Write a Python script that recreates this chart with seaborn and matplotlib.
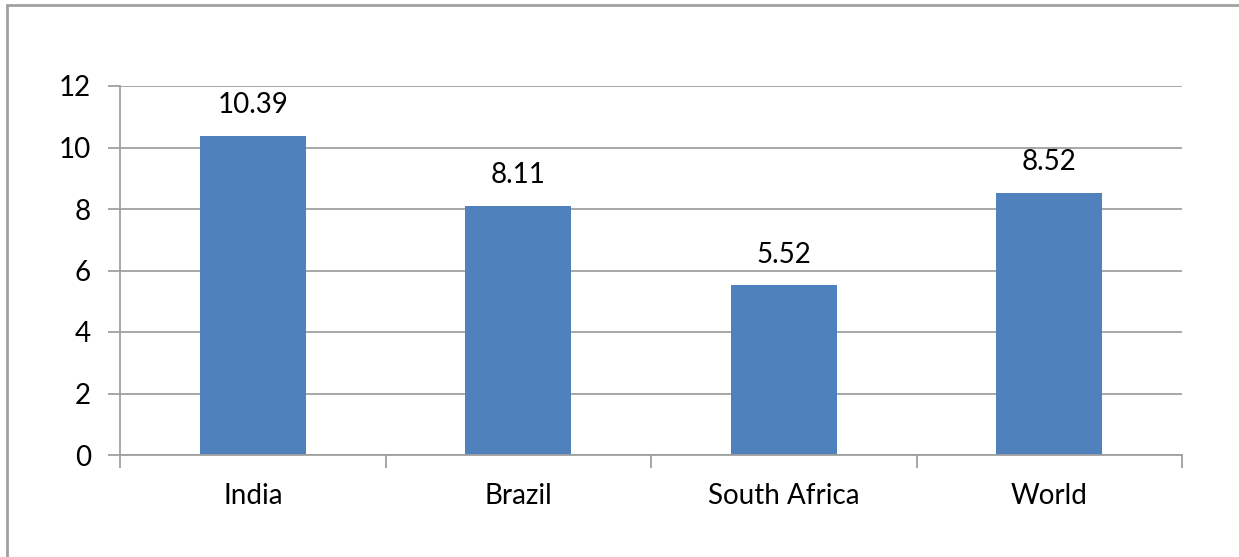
import matplotlib
matplotlib.use("Agg")
import matplotlib.pyplot as plt
import seaborn as sns
import pandas as pd
from matplotlib.lines import Line2D

categories = ["India", "Brazil", "South Africa", "World"]
values = [10.39, 8.11, 5.52, 8.52]
yticks = [0, 2, 4, 6, 8, 10, 12]

sns.set_theme(style="white")
plt.rcParams['font.family'] = ['Lato', 'DejaVu Sans']

fig = plt.figure(figsize=(12.39, 5.57), dpi=100)
ax = fig.add_axes([120/1239, 1-455/557, (1182-120)/1239, (455-86)/557])

df = pd.DataFrame({"cat": categories, "val": values})
sns.barplot(data=df, x="cat", y="val", ax=ax, color="#4F81BD", width=0.4,
            saturation=1, edgecolor="none")

grid_c = "#A0A0A0"
fs = 20
ax.set_ylim(0, 12)
ax.set_xlim(-0.5, len(categories) - 0.5)
ax.set_yticks(yticks)
ax.set_yticklabels([str(t) for t in yticks], fontsize=fs, color="black")
ax.yaxis.grid(True, color=grid_c, linewidth=1.3)
ax.set_axisbelow(True)
ax.tick_params(axis="y", length=9, width=1.3, color=grid_c, pad=12, left=True)
ax.tick_params(axis="x", which="major", length=0, pad=20, labelsize=fs, labelcolor="black")
ax.set_xticks([i - 0.5 for i in range(len(categories) + 1)], minor=True)
ax.tick_params(axis="x", which="minor", length=9, width=1.3, color=grid_c, bottom=True)
ax.set_xlabel("")
ax.set_ylabel("")
for s in ["top", "right"]:
    ax.spines[s].set_visible(False)
for s in ["left", "bottom"]:
    ax.spines[s].set_color(grid_c)
    ax.spines[s].set_linewidth(1.3)

for i, v in enumerate(values):
    ax.annotate(f"{v:.2f}", (i, v), xytext=(0, 22), textcoords="offset points",
                ha="center", va="center", fontsize=fs, color="black")

# outer chart border (left and top visible)
fig.add_artist(Line2D([6.5/1239, 6.5/1239], [0, 1-5/557], transform=fig.transFigure,
                      color=grid_c, linewidth=2))
fig.add_artist(Line2D([6.5/1239, 1], [1-5/557, 1-5/557], transform=fig.transFigure,
                      color=grid_c, linewidth=2))

fig.savefig("out.png", dpi=100)
